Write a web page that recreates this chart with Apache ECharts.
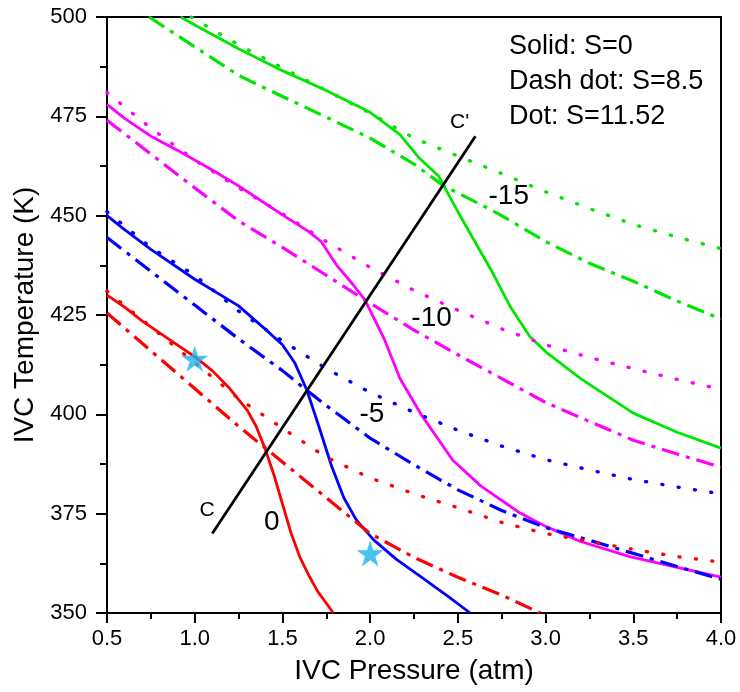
<!DOCTYPE html>
<html>
<head>
<meta charset="utf-8">
<title>IVC temperature vs pressure</title>
<script src="https://cdn.jsdelivr.net/npm/echarts@6/dist/echarts.min.js"></script>
<style>
  html, body { margin: 0; padding: 0; background: #fff; }
  #chart { width: 740px; height: 692px; }
</style>
</head>
<body>
<div id="chart"></div>
<script>
// Axis ticks
const pressureTicks = [0.5, 1.0, 1.5, 2.0, 2.5, 3.0, 3.5, 4.0];
const temperatureTicks = [350, 375, 400, 425, 450, 475, 500];

// Iso-contours [pressure (atm), IVC temperature (K)]
// contour 0
const c0Solid = [[0.5,430],[0.6,427],[0.7,423.5],[0.8,420.5],[0.9,417.5],[1.0,414.5],[1.1,411],[1.2,406.5],[1.3,401],[1.35,397],[1.4,391.5],[1.45,385],[1.5,377.5],[1.55,370],[1.6,364],[1.65,359.5],[1.7,355.5],[1.79,350]];
const c0DashDot = [[0.5,425.5],[0.75,416],[1.0,406.5],[1.25,397],[1.5,388],[1.75,379],[2.0,370],[2.25,364],[2.5,359],[2.75,354.5],[2.97,350]];
const c0Dot = [[0.5,431],[0.75,422],[1.0,413],[1.25,404],[1.5,396.5],[1.75,389.2],[2.0,384],[2.25,380],[2.5,376.5],[2.75,372.8],[3.0,370],[3.25,368],[3.5,366],[3.75,364.2],[4.0,362.8]];
// contour -5
const c5Solid = [[0.5,450],[0.6,446.5],[0.75,441.5],[1.0,434],[1.25,427.3],[1.4,421.5],[1.5,417.5],[1.57,413],[1.64,406],[1.7,398],[1.78,387],[1.85,379],[1.92,373.5],[2.02,368.4],[2.15,363.5],[2.3,358.8],[2.45,354],[2.57,350]];
const c5DashDot = [[0.5,444.5],[0.75,436],[1.0,427.5],[1.25,419],[1.5,411],[1.64,406],[1.75,402.2],[2.0,394],[2.25,387.3],[2.5,381],[2.75,375.8],[3.0,371.5],[3.25,368.3],[3.5,365],[3.75,361.7],[4.0,358.5]];
const c5Dot = [[0.5,451],[0.75,442],[1.0,435],[1.25,426],[1.5,418.5],[1.75,411.5],[2.0,405.5],[2.25,400.5],[2.5,396],[2.75,392],[3.0,388.6],[3.25,386],[3.5,383.6],[3.75,381.7],[4.0,380]];
// contour -10
const c10Solid = [[0.5,478],[0.6,474.5],[0.75,470],[0.92,466],[1.1,461.5],[1.25,457.5],[1.37,454],[1.5,450.2],[1.65,446],[1.72,443.5],[1.81,437.5],[1.9,432.8],[1.97,428.8],[2.08,419],[2.17,409],[2.29,400],[2.47,388.5],[2.63,382],[2.85,375.3],[3.0,371.8],[3.2,368],[3.48,364.2],[3.75,361.5],[4.0,359]];
const c10DashDot = [[0.5,474],[0.75,465.5],[1.0,457],[1.25,448.7],[1.5,442],[1.75,435],[1.97,428.8],[2.25,421.2],[2.5,415],[2.75,409],[3.0,403],[3.25,398.2],[3.5,393.5],[3.75,390],[4.0,386.7]];
const c10Dot = [[0.5,481],[0.75,472],[1.0,464],[1.25,457],[1.5,450.5],[1.75,443.5],[2.0,437],[2.25,431.2],[2.5,426.2],[2.75,421.5],[3.0,417.5],[3.25,414.3],[3.5,411.5],[3.75,408.8],[4.0,406.3]];
// contour -15
const c15Solid = [[0.92,500],[1.0,498],[1.25,492],[1.5,486.5],[1.75,481.5],[2.0,476],[2.17,470.4],[2.28,464.5],[2.39,460],[2.42,457.5],[2.5,451],[2.59,444],[2.7,435.5],[2.8,427],[2.91,419.6],[3.01,415.4],[3.2,409],[3.5,400.3],[3.75,395.5],[4.0,391.5]];
const c15DashDot = [[0.74,500],[1.0,492.5],[1.25,485.3],[1.5,480],[1.75,474.8],[2.0,469.5],[2.25,463],[2.42,457.5],[2.63,452.8],[2.75,450],[3.0,443.5],[3.25,438],[3.5,433.5],[3.75,428.5],[4.0,424]];
const c15Dot = [[0.98,500],[1.25,493],[1.5,487.2],[1.75,481.5],[2.0,475.8],[2.25,469.5],[2.5,465],[2.75,460.6],[3.0,456],[3.25,451.8],[3.5,447.8],[3.75,444.6],[4.0,441.7]];

// Section line C - C'
const sectionLine = [[1.1,370],[2.6,470]];
const sectionNames = ['C', "C'"];
const sectionNameAt = [[1.07,375.9],[2.51,473.4]];

// Operating points
const operatingPoints = [[1.0,414],[2.0,365]];

// Contour labels
const contourNames = ['0', '-5', '-10', '-15'];
const contourNameAt = [[1.44,372.9],[2.01,399.9],[2.35,424.3],[2.79,454.8]];

// Key text
const keyLines = ['Solid: S=0', 'Dash dot: S=8.5', 'Dot: S=11.52'];

const RED = '#ff0000', BLUE = '#0000ff', MAGENTA = '#ff00ff', GREEN = '#00e600';
const FONT = '"Liberation Sans", Arial, sans-serif';

function solid(data, color) {
  return { type: 'line', data, showSymbol: false, symbol: 'none', silent: true,
    lineStyle: { color, width: 2.8, type: 'solid' } };
}
function dashDot(data, color) {
  return { type: 'line', data, showSymbol: false, symbol: 'none', silent: true,
    lineStyle: { color, width: 3.2, type: [18, 7, 4, 7] } };
}
function dot(data, color) {
  return { type: 'line', data, showSymbol: false, symbol: 'none', silent: true,
    lineStyle: { color, width: 3.4, type: [1, 15.5], cap: 'round' } };
}

const starPath = 'path://M50,0 L61.23,34.55 L97.55,34.55 L68.17,55.9 L79.39,90.45 L50,69.1 L20.61,90.45 L31.83,55.9 L2.45,34.55 L38.77,34.55 Z';

const chart = echarts.init(document.getElementById('chart'), null, { renderer: 'canvas' });

const labelText = size => ({ show: true, position: 'inside', formatter: p => p.name,
  fontSize: size, color: '#000', fontFamily: FONT, textBorderWidth: 0, opacity: 1 });

chart.setOption({
  animation: false,
  backgroundColor: '#ffffff',
  textStyle: { fontFamily: FONT },
  grid: { left: 107, right: 19, top: 17, bottom: 79, show: true,
          borderColor: '#000', borderWidth: 2, backgroundColor: 'transparent' },
  xAxis: {
    type: 'value', min: pressureTicks[0], max: pressureTicks[pressureTicks.length - 1], interval: 0.5,
    name: 'IVC Pressure (atm)', nameLocation: 'middle', nameGap: 44,
    nameTextStyle: { fontSize: 28, color: '#000', fontFamily: FONT },
    axisLine: { lineStyle: { color: '#000', width: 2 } },
    axisTick: { show: true, inside: false, length: 10, lineStyle: { color: '#000', width: 2 } },
    minorTick: { show: true, splitNumber: 2, length: 6, lineStyle: { color: '#000', width: 2 } },
    splitLine: { show: false },
    axisLabel: { fontSize: 22, color: '#000', margin: 15, fontFamily: FONT,
                 formatter: v => v.toFixed(1) }
  },
  yAxis: {
    type: 'value', min: temperatureTicks[0], max: temperatureTicks[temperatureTicks.length - 1], interval: 25,
    name: 'IVC Temperature (K)', nameLocation: 'middle', nameGap: 67,
    nameTextStyle: { fontSize: 28, color: '#000', fontFamily: FONT },
    axisLine: { lineStyle: { color: '#000', width: 2 } },
    axisTick: { show: true, inside: false, length: 11, lineStyle: { color: '#000', width: 2 } },
    minorTick: { show: true, splitNumber: 2, length: 7, lineStyle: { color: '#000', width: 2 } },
    splitLine: { show: false },
    axisLabel: { fontSize: 22, color: '#000', margin: 20, fontFamily: FONT }
  },
  graphic: keyLines.map((t, i) => ({
    type: 'text', left: 509, top: 33 + i * 35, silent: true,
    style: { text: t, fontSize: 27, fill: '#000', fontFamily: FONT }
  })),
  series: [
    solid(c15Solid, GREEN), dashDot(c15DashDot, GREEN), dot(c15Dot, GREEN),
    solid(c10Solid, MAGENTA), dashDot(c10DashDot, MAGENTA), dot(c10Dot, MAGENTA),
    solid(c5Solid, BLUE), dashDot(c5DashDot, BLUE), dot(c5Dot, BLUE),
    solid(c0Solid, RED), dashDot(c0DashDot, RED), dot(c0Dot, RED),
    { type: 'line', data: sectionLine, showSymbol: false, symbol: 'none', silent: true,
      lineStyle: { color: '#000', width: 2.8 } },
    { type: 'scatter', data: operatingPoints, symbol: starPath, symbolSize: [27, 26], silent: true,
      itemStyle: { color: '#1ab4ea' }, z: 5 },
    { type: 'scatter', silent: true, symbolSize: 1, itemStyle: { color: 'rgba(0,0,0,0)' },
      data: sectionNames.map((n, i) => ({ name: n, value: sectionNameAt[i] })),
      label: labelText(21), z: 6 },
    { type: 'scatter', silent: true, symbolSize: 1, itemStyle: { color: 'rgba(0,0,0,0)' },
      data: contourNames.map((n, i) => ({ name: n, value: contourNameAt[i] })),
      label: labelText(28), z: 6 }
  ]
});
</script>
</body>
</html>
